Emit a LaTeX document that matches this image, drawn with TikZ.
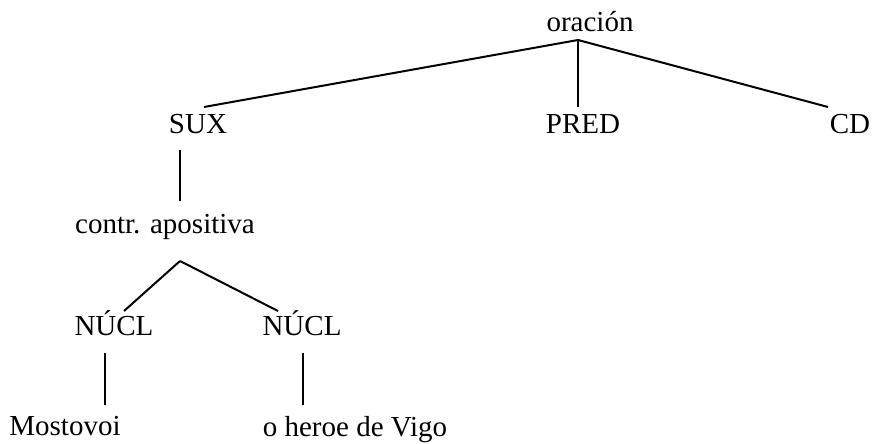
\documentclass[tikz,border=0pt]{standalone}
\usepackage{fontspec}
\setmainfont{Liberation Serif}
\begin{document}
\begin{tikzpicture}[x=1pt,y=-1pt,
  lbl/.style={anchor=base,inner sep=0pt,font=\fontsize{29}{32}\selectfont},
  edge/.style={line width=2pt}]
\useasboundingbox (0,0) rectangle (872,444);
\node[lbl] (oracion) at (590,32) {oración};
\node[lbl] (sux) at (198,133) {SUX};
\node[lbl] (pred) at (583,133) {PRED};
\node[lbl] (cd) at (850,133) {CD};
\node[lbl] (contr) at (165,233) {contr. apositiva};
\node[lbl] (nucl1) at (114,335) {NÚCL};
\node[lbl] (nucl2) at (302,335) {NÚCL};
\node[lbl] (most) at (65,435) {Mostovoi};
\node[lbl] (heroe) at (355,436) {o heroe de Vigo};
\coordinate (apex) at (578,40);
\coordinate (suxtop) at (204,107);
\coordinate (predtop) at (578,107);
\coordinate (cdtop) at (828,107);
\coordinate (suxbot) at (180,150);
\coordinate (contrtop) at (180,201);
\coordinate (apex2) at (180,261);
\coordinate (n1top) at (124,311);
\coordinate (n2top) at (278,311);
\coordinate (n1bot) at (105,353);
\coordinate (mosttop) at (105,405);
\coordinate (n2bot) at (303,353);
\coordinate (heroetop) at (303,405);
\draw[edge] (apex) -- (suxtop);
\draw[edge] (apex) -- (predtop);
\draw[edge] (apex) -- (cdtop);
\draw[edge] (suxbot) -- (contrtop);
\draw[edge] (apex2) -- (n1top);
\draw[edge] (apex2) -- (n2top);
\draw[edge] (n1bot) -- (mosttop);
\draw[edge] (n2bot) -- (heroetop);
\end{tikzpicture}
\end{document}
